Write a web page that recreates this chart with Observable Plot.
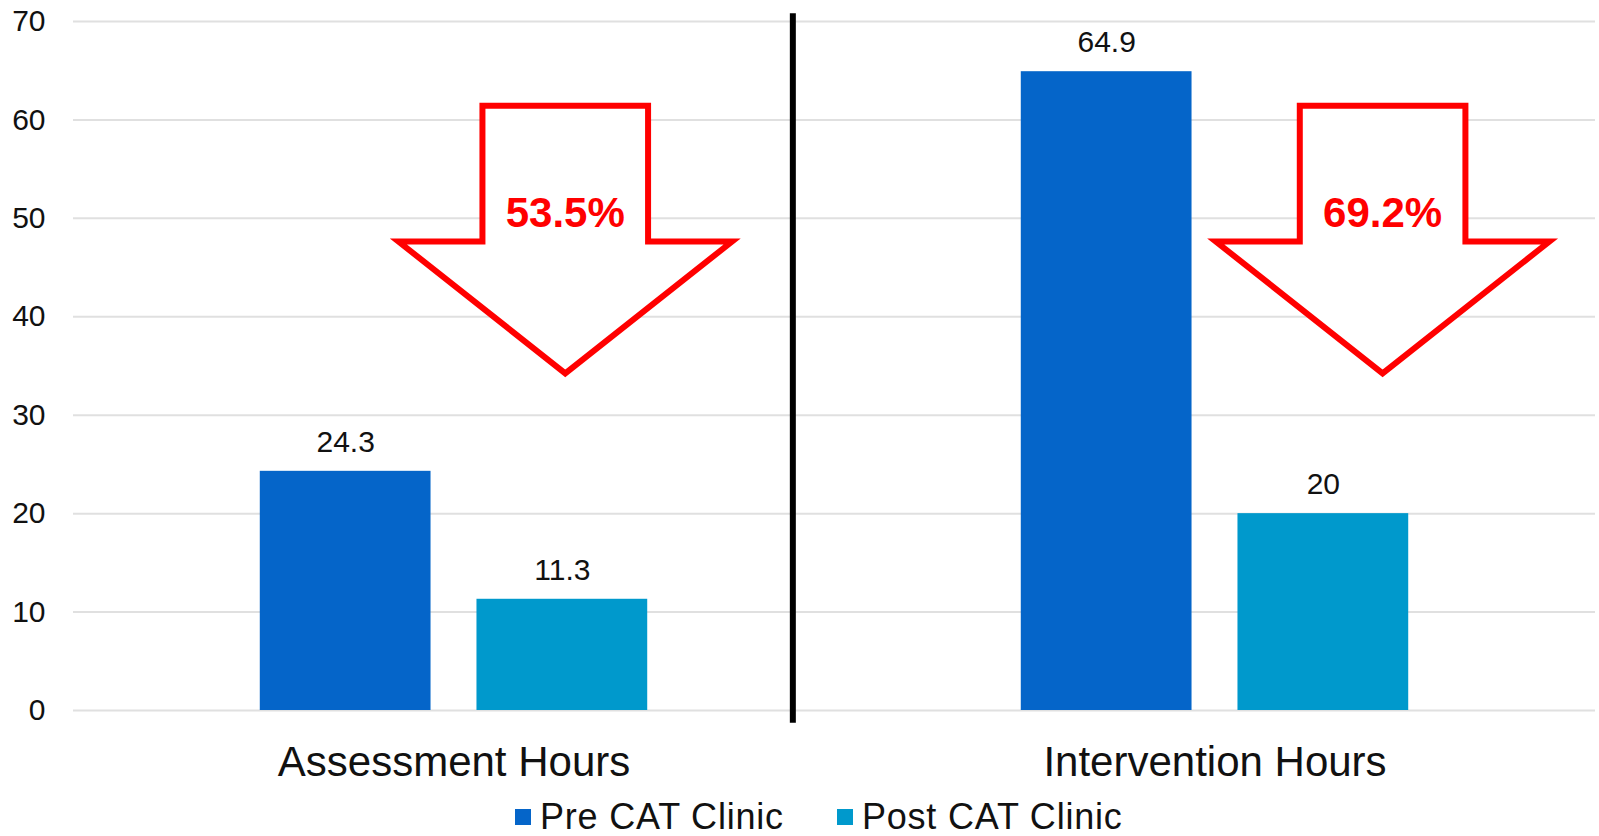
<!DOCTYPE html>
<html>
<head>
<meta charset="utf-8">
<script src="https://cdn.jsdelivr.net/npm/d3@7"></script>
<script src="https://cdn.jsdelivr.net/npm/@observablehq/plot@0.6"></script>
<style>
  body { margin: 0; background: #fff; font-family: "Liberation Sans", Arial, sans-serif; }
  #chart { position: relative; width: 1599px; height: 836px; overflow: hidden; }
  #chart svg { display: block; }
  .legend { position: absolute; left: 515px; top: 797px; height: 40px; display: flex; align-items: center; font-size: 36px; line-height: 40px; letter-spacing: 0.8px; color: #111; }
  .item { display: flex; align-items: center; margin-right: 53px; }
  .sw { width: 16px; height: 16px; margin-right: 9px; }
</style>
</head>
<body>
<div id="chart"></div>
<script>
// ---- data ----
const categories = ["Assessment Hours", "Intervention Hours"];
const seriesNames = ["Pre CAT Clinic", "Post CAT Clinic"];
const preValues = [24.3, 64.9];
const postValues = [11.3, 20];
const reductionLabels = ["53.5%", "69.2%"];
const yTicks = [0, 10, 20, 30, 40, 50, 60, 70];

// ---- styles / annotation layout ----
const seriesColors = ["#0565c9", "#0099cc"];
const gridColor = "#e0e0e0";
const arrowCfg = { top: 61.4, shoulder: 47.6, tip: 34.2, labelY: 50.6, shift: [0.02, 0.35], shaftHalf: 0.485, headHalf: 0.977 };
const dividerCfg = { y1: -1.3, y2: 70.8, dx: 230.5 };

const rows = categories.flatMap((c, i) => [
  { cat: c, series: seriesNames[0], value: preValues[i] },
  { cat: c, series: seriesNames[1], value: postValues[i] }
]);
const arrows = categories.map((c, i) => ({ cat: c, series: seriesNames[1], label: reductionLabels[i], shift: arrowCfg.shift[i] }));

function arrowRender(index, scales, values) {
  const g = d3.create("svg:g");
  const x = scales.x, y = scales.y;
  const step = x(seriesNames[1]) - x(seriesNames[0]);
  let bw = typeof x.bandwidth === "function" ? x.bandwidth() : x.bandwidth;
  if (!(bw > 0)) bw = step * (1 - 0.212);
  for (const i of index) {
    const d = arrows[i];
    const cx = x(d.series) + bw / 2 + d.shift * bw;
    const sh = arrowCfg.shaftHalf * bw, hh = arrowCfg.headHalf * bw;
    const yt = y(arrowCfg.top), ys = y(arrowCfg.shoulder), yp = y(arrowCfg.tip);
    const pts = [[cx - sh, yt], [cx + sh, yt], [cx + sh, ys], [cx + hh, ys], [cx, yp], [cx - hh, ys], [cx - sh, ys]];
    g.append("path")
      .attr("d", "M" + pts.map(p => p.join(",")).join("L") + "Z")
      .attr("fill", "#fff")
      .attr("stroke", "#ff0000")
      .attr("stroke-width", 6)
      .attr("stroke-linejoin", "miter")
      .attr("stroke-miterlimit", 10);
    g.append("text")
      .attr("x", cx)
      .attr("y", y(arrowCfg.labelY))
      .attr("dy", "0.35em")
      .attr("text-anchor", "middle")
      .attr("fill", "#ff0000")
      .attr("font-weight", "bold")
      .attr("font-size", 42)
      .text(d.label);
  }
  return g.node();
}

const plot = Plot.plot({
  width: 1599,
  height: 795,
  marginTop: 21,
  marginBottom: 85,
  marginLeft: 73,
  marginRight: 4,
  style: { fontFamily: "'Liberation Sans', Arial, sans-serif", background: "#fff", color: "#111" },
  fx: { domain: categories, padding: 0, label: null },
  x: { domain: seriesNames, paddingInner: 0.212, paddingOuter: 0.862, round: false, axis: null },
  y: { domain: [0, 70], axis: null },
  color: { domain: seriesNames, range: seriesColors },
  marks: [
    Plot.gridY(yTicks, { stroke: gridColor, strokeOpacity: 1, strokeWidth: 2 }),
    Plot.axisY(yTicks, { tickSize: 0, tickPadding: 28, fontSize: 30, label: null, fill: "#111" }),
    Plot.axisFx({ anchor: "bottom", tickSize: 0, tickPadding: 36, fontSize: 42, label: null, fill: "#111" }),
    Plot.barY(rows, { fx: "cat", x: "series", y: "value", fill: "series" }),
    Plot.text(rows, { fx: "cat", x: "series", y: "value", text: d => String(d.value), dy: -29, fontSize: 30, fill: "#111" }),
    Plot.ruleX([{ cat: categories[0], s: seriesNames[1] }], { fx: "cat", x: "s", y1: dividerCfg.y1, y2: dividerCfg.y2, dx: dividerCfg.dx, stroke: "#000", strokeWidth: 6 }),
    Plot.dot(arrows, { fx: "cat", x: "series", y: () => arrowCfg.top, render: arrowRender })
  ]
});

const chart = document.getElementById("chart");
chart.appendChild(plot);

const legend = document.createElement("div");
legend.className = "legend";
seriesNames.forEach((s, i) => {
  const item = document.createElement("div");
  item.className = "item";
  const sw = document.createElement("span");
  sw.className = "sw";
  sw.style.background = seriesColors[i];
  const label = document.createElement("span");
  label.textContent = s;
  item.appendChild(sw);
  item.appendChild(label);
  legend.appendChild(item);
});
chart.appendChild(legend);
</script>
</body>
</html>
